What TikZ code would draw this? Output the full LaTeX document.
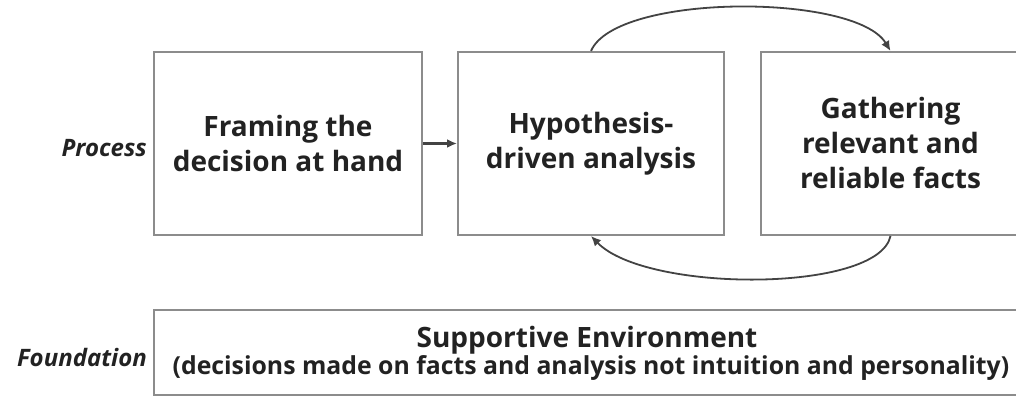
\documentclass[tikz,border=0pt]{standalone}
\usepackage{fontspec}
\setmainfont{Open Sans}
\usetikzlibrary{arrows.meta,calc}
\definecolor{frame}{HTML}{8C8C8C}
\definecolor{ink}{HTML}{222222}
\begin{document}
\begin{tikzpicture}[x=1pt,y=1pt,
  box/.style={draw=frame, line width=2pt, minimum height=183pt, inner sep=0pt,
              align=center, text=ink, font=\fontsize{28}{35}\selectfont\bfseries},
  flow/.style={draw=ink!85, line width=1.8pt, -{Latex[length=10pt,width=9pt]}},
  rowlabel/.style={text=ink, anchor=east, inner sep=0pt,
                   font=\fontsize{24}{26}\selectfont\bfseries\itshape},
  envtext/.style={text=ink, inner sep=0pt}]
  \useasboundingbox (0,0) rectangle (1016,396);
  \clip (0,0) rectangle (1016,396);

  % process row
  \node[box, minimum width=268pt] (frame) at (288,252.5)
    {Framing the\\decision at hand};
  \node[box, minimum width=266pt] (hyp) at (591,252.5)
    {Hypothesis-\\driven analysis};
  \node[box, minimum width=259pt] (facts) at (890.5,252.5)
    {Gathering\\relevant and\\reliable facts};

  % foundation row
  \node[draw=frame, line width=2pt, minimum width=866pt, minimum height=85pt,
        inner sep=0pt] (env) at (587,43.5) {};
  \node[envtext, font=\fontsize{28}{30}\selectfont\bfseries] (envtitle)
    at ($(env.center)+(0,12)$) {Supportive Environment};
  \node[envtext, font=\fontsize{24.8}{27}\selectfont\bfseries] (envnote)
    at ($(env.center)+(4,-15)$)
    {(decisions made on facts and analysis not intuition and personality)};

  % row labels
  \node[rowlabel] (proc) at (147,248) {Process};
  \node[rowlabel] (found) at (147,39) {Foundation};

  % connectors
  \draw[flow, line width=2.6pt] (frame.east) -- (hyp.west);
  \draw[flow] (hyp.north) .. controls +(25,58) and +(-35,58) .. (facts.north);
  \draw[flow] (facts.south) .. controls +(-12,-57) and +(55,-57) .. (hyp.south);
\end{tikzpicture}
\end{document}
